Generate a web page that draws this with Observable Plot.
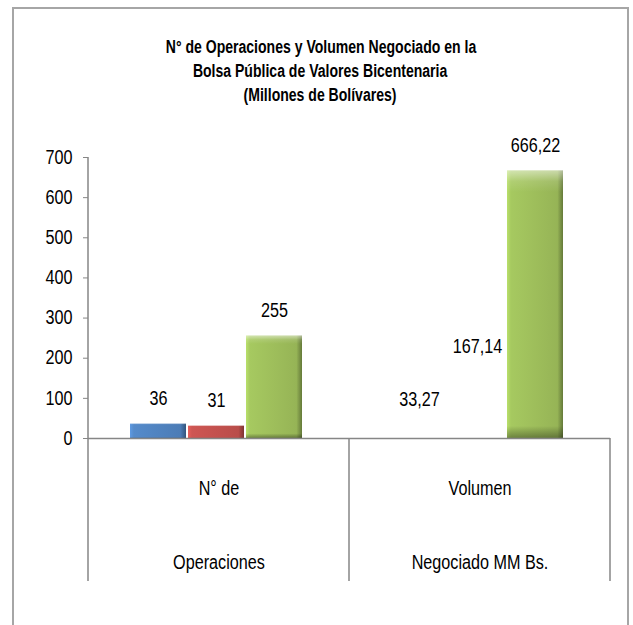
<!DOCTYPE html>
<html><head><meta charset="utf-8">
<script src="https://cdn.jsdelivr.net/npm/d3@7"></script>
<script src="https://cdn.jsdelivr.net/npm/@observablehq/plot@0.6"></script>
<style>
body{margin:0;background:#fff;}
#wrap{position:relative;width:633px;height:625px;overflow:hidden;font-family:"Liberation Sans",Arial,sans-serif;}
#border{position:absolute;left:12px;top:7px;width:617px;height:700px;border:2px solid #a6a6a6;box-sizing:border-box;}
#title{position:absolute;left:12px;width:617px;top:35px;text-align:center;font-weight:bold;font-size:18px;line-height:24px;color:#000;}
#title div{white-space:nowrap;}
#title span{display:inline-block;transform-origin:center;}
#chart{position:absolute;left:0;top:125px;}
</style></head><body>
<div id="wrap"><div id="border"></div><div id="title"></div><div id="chart"></div></div>
<script>
// ---- data ----
const titleLines = ["N° de Operaciones y Volumen Negociado en la", "Bolsa Pública de Valores Bicentenaria", "(Millones de Bolívares)"];
const categories = ["N° de Operaciones", "Volumen Negociado MM Bs."];
const categoryLine1 = ["N° de", "Volumen"];
const categoryLine2 = ["Operaciones", "Negociado MM Bs."];
const series = ["Serie 1", "Serie 2", "Serie 3"];
const operaciones = [36, 31, 255];
const volumen = [33.27, 167.14, 666.22];
const yTicks = [0, 100, 200, 300, 400, 500, 600, 700];

// ---- styles ----
const seriesColors = ["#4f81bd", "#c0504d", "#9bbb59"];
const font = '"Liberation Sans",Arial,sans-serif';
const narrow = 0.83;      // horizontal squeeze to mimic a condensed face
const titleNarrow = 0.78;

// title
const titleEl = document.getElementById("title");
titleLines.forEach(t => {
  const div = document.createElement("div");
  const span = document.createElement("span");
  span.textContent = t;
  span.style.transform = `scaleX(${titleNarrow})`;
  div.appendChild(span);
  titleEl.appendChild(div);
});

const valuesByCat = [operaciones, volumen];
const rows = [];
categories.forEach((cat, i) => series.forEach((s, j) => {
  const v = valuesByCat[i][j];
  rows.push({cat, series: s, value: v, label: String(v).replace(".", ",")});
}));
// In the reference only the green bar of the volume group is painted (the others show labels only)
const painted = d => !(d.cat === categories[1] && d.series !== series[2]);
const gradFill = d => `url(#grad-${series.indexOf(d.series)})`;

const plot = Plot.plot({
  width: 633, height: 500,
  marginLeft: 88, marginRight: 23, marginTop: 32, marginBottom: 187,
  style: {fontFamily: font, fontSize: "19.5px", color: "#000", background: "transparent", overflow: "visible"},
  fx: {domain: categories, padding: 0, axis: null},
  x: {domain: series, paddingInner: 0.043, paddingOuter: 0.75, align: 0.47, axis: null},
  y: {domain: [0, 700], axis: null},
  marks: [
    Plot.axisY({ticks: yTicks, tickSize: 5, tickPadding: 11, label: null, stroke: "#868686", fill: "#000", fontSize: 19.5}),
    Plot.barY(rows.filter(painted), {fx: "cat", x: "series", y: "value", fill: gradFill}),
    Plot.barY(rows.filter(painted), {fx: "cat", x: "series", y: "value", fill: "url(#vshade)"}),
    Plot.ruleY([0], {stroke: "#868686", strokeWidth: 1.5}),
    Plot.text(rows, {fx: "cat", x: "series", y: "value", text: "label", dy: -25, fontSize: 19.5, fill: "#000"}),
    Plot.text(categories, {fx: d => d, text: (d, i) => categoryLine1[i], frameAnchor: "bottom", dy: 56, fontSize: 19.5, fill: "#000"}),
    Plot.text(categories, {fx: d => d, text: (d, i) => categoryLine2[i], frameAnchor: "bottom", dy: 130, fontSize: 19.5, fill: "#000"})
  ]
});

const svg = d3.select(plot);
const defs = svg.insert("defs", ":first-child");
seriesColors.forEach((c, i) => {
  const g = defs.append("linearGradient").attr("id", `grad-${i}`).attr("x1", 0).attr("x2", 1).attr("y1", 0).attr("y2", 0);
  const base = d3.color(c);
  [[0, base.brighter(0.5)], [0.07, base.brighter(0.2)], [0.5, base.brighter(0.05)], [0.9, base.darker(0.1)], [1, base.darker(1.2)]]
    .forEach(([o, col]) => g.append("stop").attr("offset", o).attr("stop-color", col.formatHex()));
});
const vs = defs.append("linearGradient").attr("id", "vshade").attr("x1", 0).attr("x2", 0).attr("y1", 0).attr("y2", 1);
[[0, "#ffffff", 0.5], [0.04, "#ffffff", 0.12], [0.08, "#ffffff", 0.0], [0.955, "#000000", 0.0], [1, "#000000", 0.35]]
  .forEach(([o, c, a]) => vs.append("stop").attr("offset", o).attr("stop-color", c).attr("stop-opacity", a));

// axis line and category dividers, positioned by Plot's own scales
const fx = plot.scale("fx"), y = plot.scale("y");
const x0 = fx.apply(categories[0]);
const bw = fx.bandwidth;
const y0 = y.apply(0), yTop = y.apply(700);
const g = svg.append("g").attr("stroke", "#868686").attr("stroke-width", 1.5);
g.append("line").attr("x1", x0).attr("x2", x0).attr("y1", yTop).attr("y2", y0);
[x0, fx.apply(categories[1]), fx.apply(categories[1]) + bw].forEach(xv =>
  g.append("line").attr("x1", xv).attr("x2", xv).attr("y1", y0).attr("y2", y0 + 143));

document.getElementById("chart").appendChild(plot);

// condense every text horizontally (keeps its anchor)
svg.selectAll("text").each(function () {
  const len = this.getComputedTextLength();
  if (len > 0) {
    this.setAttribute("textLength", (len * narrow).toFixed(2));
    this.setAttribute("lengthAdjust", "spacingAndGlyphs");
  }
});
</script>
</body></html>
